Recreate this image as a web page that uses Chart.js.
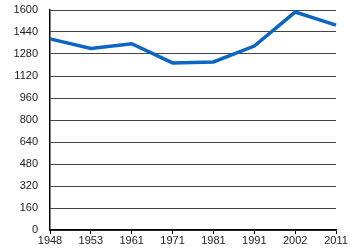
<!DOCTYPE html>
<html>
<head>
  <meta charset="UTF-8" />
  <script src="https://cdn.jsdelivr.net/npm/chart.js"></script>
  <style>
    body { margin: 0; padding: 0; background: white; }
    canvas { display: block; }
  </style>
</head>
<body>
  <canvas id="chart" width="350" height="250"></canvas>
  <script>
    const years = ['1948', '1953', '1961', '1971', '1981', '1991', '2002', '2011'];
    const population = [1390, 1320, 1355, 1215, 1222, 1338, 1585, 1490];
    const yMin = 0, yMax = 1600, yStep = 160;

    const ctx = document.getElementById('chart').getContext('2d');
    new Chart(ctx, {
      type: 'line',
      data: {
        labels: years,
        datasets: [{
          data: population,
          borderColor: '#0a66c2',
          borderWidth: 3.5,
          fill: false,
          tension: 0,
          pointRadius: 0
        }]
      },
      options: {
        responsive: false,
        animation: false,
        layout: { padding: { top: 10, right: 14, left: 0, bottom: 0 } },
        plugins: { legend: { display: false }, tooltip: { enabled: false } },
        scales: {
          x: {
            offset: false,
            grid: { drawOnChartArea: false, drawTicks: true, tickLength: 4, color: '#000' },
            border: { color: '#000', width: 1.5 },
            ticks: {
              color: '#222', maxRotation: 0, autoSkip: false, padding: 0,
              font: { family: 'Liberation Sans', size: 11 }
            },
            afterFit: s => { s.height = 20; s.paddingLeft = 0; s.paddingRight = 0; }
          },
          y: {
            min: yMin, max: yMax,
            grid: { color: '#444', lineWidth: 1, drawTicks: false },
            border: { color: '#000', width: 1.5 },
            ticks: {
              stepSize: yStep, color: '#222', padding: 12,
              font: { family: 'Liberation Sans', size: 11 },
              callback: v => String(v)
            },
            afterFit: s => { s.width = 50; s.paddingTop = 0; s.paddingBottom = 0; }
          }
        }
      }
    });
  </script>
</body>
</html>
